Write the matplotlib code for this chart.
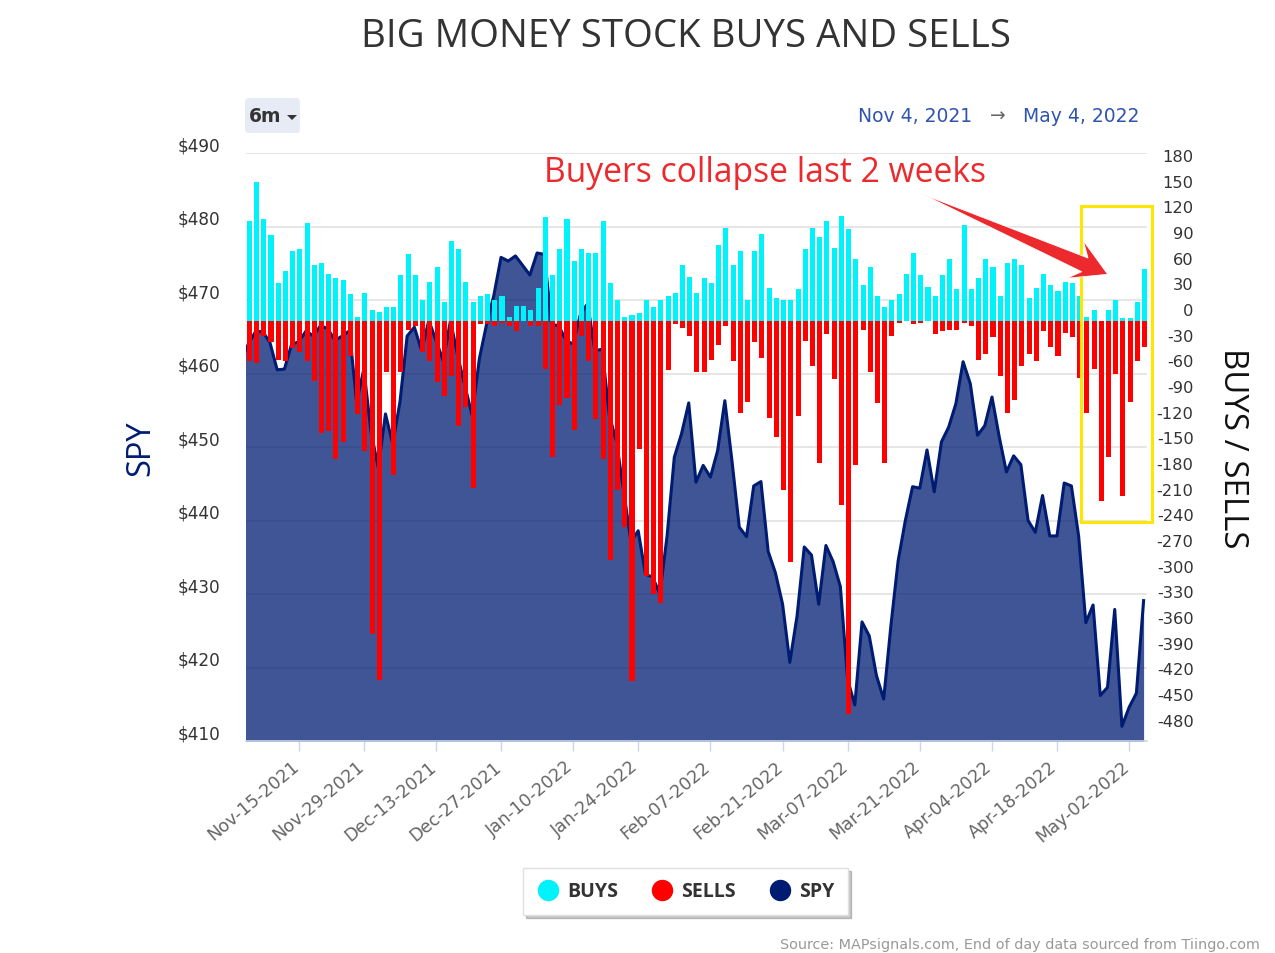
import matplotlib
matplotlib.use('Agg')
import matplotlib.pyplot as plt
import numpy as np
from matplotlib.lines import Line2D
from matplotlib.patches import FancyBboxPatch, Polygon, Rectangle
from matplotlib.transforms import IdentityTransform, ScaledTranslation

W, H = 1275, 954

# Daily buys, one per trading day from Nov 4 2021 to May 4 2022
buys = [117, 162, 119, 100, 44, 59, 82, 84, 115, 66, 68, 55, 50, 48, 31, 5, 33, 13, 11, 16,
        16, 54, 78, 54, 24, 46, 63, 22, 93, 84, 46, 22, 29, 31, 25, 29, 5, 18, 18, 13,
        39, 121, 54, 84, 119, 70, 84, 80, 80, 117, 44, 25, 5, 7, 9, 24, 16, 25, 29, 33,
        65, 52, 33, 50, 44, 89, 109, 66, 82, 24, 82, 102, 39, 27, 25, 25, 37, 84, 109, 98,
        117, 85, 123, 108, 72, 42, 63, 29, 16, 24, 31, 55, 80, 54, 40, 29, 54, 72, 37, 112,
        37, 50, 72, 63, 29, 68, 72, 65, 27, 39, 55, 42, 35, 45, 44, 29, 5, 13, 0, 13,
        25, 3, 3, 22, 61]

# Daily sells, plotted downwards
sells = [47, 49, 18, 25, 45, 47, 32, 36, 47, 70, 131, 128, 161, 141, 41, 109, 152, 366, 419, 60,
         180, 60, 10, 6, 36, 47, 71, 88, 64, 123, 100, 195, 4, 4, 6, 2, 6, 12, 0, 6,
         6, 56, 159, 98, 90, 127, 17, 47, 114, 161, 279, 198, 241, 421, 150, 298, 319, 330, 57, 3,
         8, 17, 60, 60, 45, 28, 6, 47, 107, 95, 25, 43, 113, 135, 198, 282, 111, 23, 53, 166,
         15, 68, 215, 459, 168, 10, 59, 96, 166, 17, 2, 0, 4, 2, 0, 15, 12, 10, 10, 2,
         6, 45, 39, 19, 64, 107, 92, 53, 39, 47, 12, 30, 41, 14, 19, 66, 107, 56, 210, 159,
         62, 204, 95, 47, 30]

# SPY close, first value is the day before the window (cut off by the axes)
spy = [461.8, 464.0, 465.7, 465.7, 464.2, 460.5, 460.6, 464.0, 464.3, 465.8, 465.1, 466.5, 466.1, 464.5,
       465.1, 465.8, 456.1, 460.6, 452.0, 447.2, 454.5, 450.4, 456.1, 465.1, 466.3, 463.1, 467.2, 464.5,
       461.7, 467.2, 462.4, 458.3, 454.3, 462.0, 466.7, 470.6, 475.8, 475.3, 476.0, 474.7, 473.4, 476.4,
       476.2, 466.7, 466.5, 464.5, 464.0, 468.1, 469.5, 463.1, 463.3, 454.3, 450.7, 443.9, 437.1, 438.6,
       432.7, 432.3, 430.0, 437.9, 448.6, 451.8, 456.0, 445.2, 447.5, 445.9, 449.5, 456.3, 448.0, 439.1,
       437.8, 444.7, 445.3, 435.8, 432.9, 428.6, 420.7, 427.0, 436.4, 435.3, 428.6, 436.6, 434.4, 431.0,
       418.4, 414.9, 426.2, 424.3, 418.9, 415.7, 425.7, 434.5, 440.0, 444.6, 444.4, 449.6, 443.9, 450.7,
       452.7, 455.9, 461.6, 458.6, 451.6, 452.9, 456.8, 451.4, 446.6, 448.8, 447.6, 440.0, 438.4, 443.4,
       437.9, 437.9, 445.1, 444.7, 437.9, 426.1, 428.5, 416.2, 417.3, 427.9, 412.0, 414.6, 416.5, 429.1]

date_ticks = [7, 16, 26, 35, 45, 54, 64, 74, 83, 93, 103, 112, 122]
date_labels = ['Nov-15-2021', 'Nov-29-2021', 'Dec-13-2021', 'Dec-27-2021', 'Jan-10-2022',
               'Jan-24-2022', 'Feb-07-2022', 'Feb-21-2022', 'Mar-07-2022', 'Mar-21-2022',
               'Apr-04-2022', 'Apr-18-2022', 'May-02-2022']
spy_ticks = [410, 420, 430, 440, 450, 460, 470, 480, 490]
flow_ticks = list(range(-480, 181, 30))

NAVY = '#001c72'
CYAN = '#00f2fa'
RED = '#ff0000'
ARROW_RED = '#ec2a2d'


def pts(*xy):
    # reference pixel (y from the top) to display coords
    return [(x, H - y) for x, y in xy]


plt.rcParams['font.family'] = ['DejaVu Sans']
fig = plt.figure(figsize=(W / 100, H / 100), dpi=100)
ax = fig.add_axes([246 / W, 1 - 742 / H, (1147 - 246) / W, (742 - 154) / H])

# SPY area on the left axis
x_spy = np.arange(len(spy)) - 1
ax.fill_between(x_spy, spy, 400, color=NAVY, alpha=0.75, lw=0, zorder=2)
ax.plot(x_spy, spy, color=NAVY, lw=2.2, zorder=3, solid_joinstyle='round')
ax.set_xlim(-0.32, 124.47)
ax.set_ylim(410, 490)
ax.set_yticks(spy_ticks)
ax.set_yticklabels([f'${v}' for v in spy_ticks], fontsize=12.2, color='#333333')
ax.grid(axis='y', color='#e6e6e6', lw=1.4, zorder=1)
ax.set_axisbelow(True)
ax.tick_params(axis='y', length=0, pad=18.7)
ax.set_xticks(date_ticks)
ax.set_xticklabels(date_labels, rotation=40, ha='right', rotation_mode='anchor',
                   fontsize=12.6, color='#666666')
ax.tick_params(axis='x', length=7.5, width=1, color='#ccd6eb', pad=4)
for name in ['top', 'left', 'right']:
    ax.spines[name].set_visible(False)
ax.spines['bottom'].set_color('#ccd6eb')
ax.spines['bottom'].set_linewidth(1.2)

# Buys and sells on the right axis, on top of the area
ax2 = ax.twinx()
x_bars = np.arange(len(buys)) + 0.14
ax2.bar(x_bars, buys, width=0.7, color=CYAN, lw=0, zorder=3)
ax2.bar(x_bars, -np.array(sells), width=0.7, color=RED, lw=0, zorder=3)
ax2.set_ylim(-490.7, 196.3)
ax2.set_yticks(flow_ticks)
ax2.set_yticklabels([str(v) for v in flow_ticks], fontsize=11.7, color='#333333', ha='right')
ax2.tick_params(axis='y', length=0, pad=33.5)
for spine in ax2.spines.values():
    spine.set_visible(False)

# value labels sit above their gridlines in the original, date labels end left of the tick
for lab in ax.get_yticklabels():
    lab.set_transform(lab.get_transform() + ScaledTranslation(0, 9.5 / 100, fig.dpi_scale_trans))
for lab in ax2.get_yticklabels():
    lab.set_transform(lab.get_transform() + ScaledTranslation(0, 12 / 100, fig.dpi_scale_trans))
for lab in ax.get_xticklabels():
    lab.set_transform(lab.get_transform() + ScaledTranslation(-8 / 100, 0, fig.dpi_scale_trans))

# Texts
fig.text(686 / W, 1 - 37 / H, 'BIG MONEY STOCK BUYS AND SELLS', family='Open Sans', fontsize=27.6,
         color='#333333', ha='center', va='center')
fig.text(141 / W, 1 - 448 / H, 'SPY', family='Open Sans', fontsize=23.5, color=NAVY,
         rotation=90, ha='center', va='center')
fig.text(1232 / W, 1 - 448 / H, 'BUYS / SELLS', family='Open Sans', fontsize=23.8, color='#111111',
         rotation=270, ha='center', va='center')
fig.text(765.5 / W, 1 - 173 / H, 'Buyers collapse last 2 weeks', family='Open Sans', fontsize=24.2,
         color=ARROW_RED, ha='center', va='center')
fig.text(1260 / W, 1 - 945 / H, 'Source: MAPsignals.com, End of day data sourced from Tiingo.com',
         fontsize=10.37, color='#999999', ha='right', va='center')

# Range selector and date range
fig.add_artist(FancyBboxPatch(pts((249, 130))[0], 47, 27, boxstyle='round,pad=4,rounding_size=4',
                              transform=IdentityTransform(), fc='#e6ebf5', ec='none'))
fig.text(249 / W, 1 - 117 / H, '6m', fontsize=13.5, fontweight='bold', color='#333333', va='center')
fig.add_artist(Polygon(pts((287, 116), (297, 116), (292, 121)), transform=IdentityTransform(),
                       fc='#333333', ec='none'))
fig.text(858 / W, 1 - 116 / H, 'Nov 4, 2021', fontsize=13.5, color='#2f54b0', va='center')
fig.text(998 / W, 1 - 116 / H, '\u2192', fontsize=13.5, color='#666666', va='center', ha='center')
fig.text(1023 / W, 1 - 116 / H, 'May 4, 2022', fontsize=13.5, color='#2f54b0', va='center')

# Yellow box and hand drawn arrow
fig.add_artist(Rectangle(pts((1081, 523))[0], 71, 316, transform=IdentityTransform(),
                         fc='none', ec='#ffe600', lw=2.2, zorder=4))
fig.add_artist(Polygon(pts((922, 195), (1088, 259), (1083.3, 241.7), (1107.7, 275.3),
                           (1066.7, 279.3), (1081.7, 272.7)),
                       transform=IdentityTransform(), fc=ARROW_RED, ec='white', lw=0.6, zorder=5))

# Legend
handles = [Line2D([], [], ls='none', marker='o', ms=14.4, color=c, label=t)
           for c, t in [(CYAN, 'BUYS'), (RED, 'SELLS'), (NAVY, 'SPY')]]
fig.legend(handles=handles, loc='center', bbox_to_anchor=(685.5 / W, 1 - 892.5 / H), ncol=3,
           frameon=True, fancybox=False, shadow={'ox': 2, 'oy': -2, 'alpha': 0.3}, edgecolor='#e0e0e0',
           framealpha=1, prop={'family': 'Open Sans', 'weight': 'bold', 'size': 14}, labelcolor='#333333',
           handletextpad=0.4, columnspacing=1.63, borderpad=0.7, handlelength=1.2)

fig.savefig('out.png', dpi=100)
